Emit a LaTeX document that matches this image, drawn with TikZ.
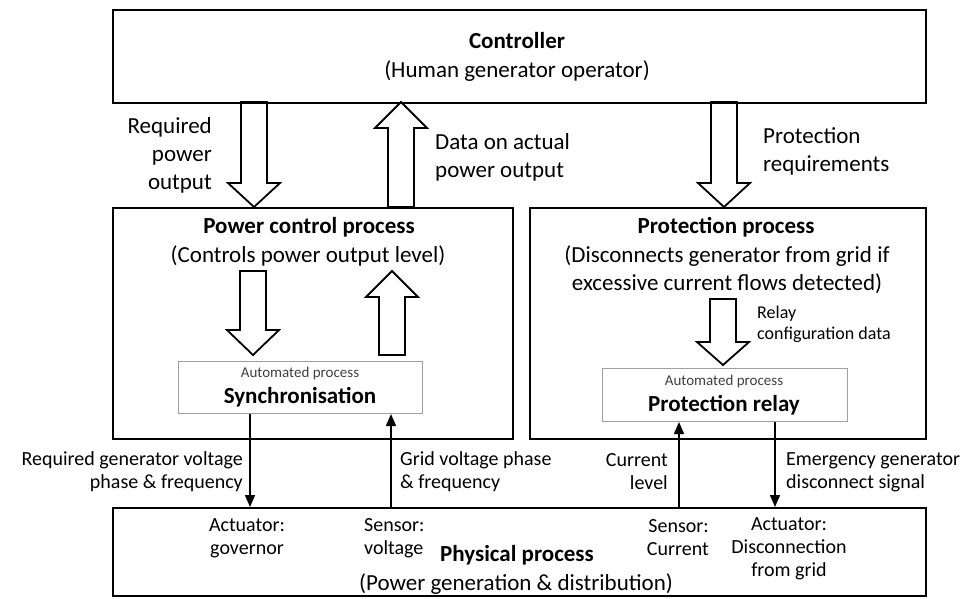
\documentclass[tikz,border=0pt]{standalone}
\usepackage{fontspec}
\setmainfont{Carlito}
\usetikzlibrary{arrows.meta,calc}
\newcommand\blkdown[4]{\draw[blk] (#1-13,#2) -- (#1-13,#3) -- (#1-26,#3) -- (#1,#4) -- (#1+26,#3) -- (#1+13,#3) -- (#1+13,#2) -- cycle;}
\newcommand\blkup[4]{\draw[blk] (#1-13,#2) -- (#1-13,#3) -- (#1-26,#3) -- (#1,#4) -- (#1+26,#3) -- (#1+13,#3) -- (#1+13,#2) -- cycle;}
\begin{document}
\begin{tikzpicture}[x=1pt,y=-1pt,
  box/.style={draw, line width=2.4pt, inner sep=0pt, anchor=north west},
  ibox/.style={draw=gray!75, line width=1pt, inner sep=0pt, anchor=north west},
  blk/.style={draw, line width=1.8pt, fill=white, line join=miter},
  sig/.style={line width=1.6pt, -{Triangle[length=12pt,width=10pt]}},
  big/.style={font=\fontsize{23}{28}\selectfont, inner sep=0pt},
  bigb/.style={font=\fontsize{23}{28}\selectfont\bfseries, inner sep=0pt},
  mid/.style={font=\fontsize{20}{23}\selectfont, inner sep=0pt},
  sml/.style={font=\fontsize{18}{21}\selectfont, inner sep=0pt},
  tiny/.style={font=\fontsize{15}{18}\selectfont, text=black!75, inner sep=0pt}]
\useasboundingbox (0,0) rectangle (974,598);

% block arrows
\blkdown{254}{102}{183}{207}
\blkup{401}{207}{128}{102}
\blkdown{724}{102}{183}{207}
\blkdown{253}{271}{330}{355}
\blkup{392}{355}{297}{271}
\blkdown{723}{299}{342}{365}

% boxes
\node[box, minimum width=813pt, minimum height=93pt] (ctrl) at (112,9) {};
\node[box, minimum width=400pt, minimum height=231pt] (pcp) at (112,207) {};
\node[box, minimum width=396pt, minimum height=231pt] (pp) at (529,207) {};
\node[box, minimum width=813pt, minimum height=88pt] (phys) at (112,507) {};
\node[ibox, minimum width=244pt, minimum height=52pt] (sync) at (178,361) {};
\node[ibox, minimum width=245pt, minimum height=53pt] (relay) at (602,368) {};

% signal arrows
\coordinate (c1) at (250,0);
\coordinate (c2) at (391,0);
\coordinate (c3) at (679,0);
\coordinate (c4) at (775,0);
\draw[sig] (c1 |- sync.south) -- (c1 |- phys.north);
\draw[sig] (c2 |- phys.north) -- (c2 |- sync.south);
\draw[sig] (c3 |- phys.north) -- (c3 |- relay.south);
\draw[sig] (c4 |- relay.south) -- (c4 |- phys.north);

% texts
\node[bigb] (t1) at (517,41) {Controller};
\node[big] (t2) at (517,71) {(Human generator operator)};
\node[big, align=right, anchor=east] (t3) at (212,155) {Required\\power\\output};
\node[big, align=left, anchor=west] (t4) at (435,157) {Data on actual\\power output};
\node[big, align=left, anchor=west] (t5) at (763,151) {Protection\\requirements};
\node[bigb] (t6) at (309,227) {Power control process};
\node[big] (t7) at (308,256) {(Controls power output level)};
\node[bigb] (t8) at (726,227) {Protection process};
\node[big, align=center] (t9) at (727,270) {(Disconnects generator from grid if\\excessive current flows detected)};
\node[sml, align=left, anchor=west] (t10) at (757,324) {Relay\\configuration data};
\node[tiny] (t11) at (300,373) {Automated process};
\node[bigb] (t12) at (300,397) {Synchronisation};
\node[tiny] (t13) at (724,381) {Automated process};
\node[bigb] (t14) at (724,405) {Protection relay};
\node[mid, align=right, anchor=east] (t15) at (243,472) {Required generator voltage\\phase \& frequency};
\node[mid, align=left, anchor=west] (t16) at (400,472) {Grid voltage phase\\\& frequency};
\node[mid, align=right, anchor=east] (t17) at (668,472) {Current\\level};
\node[mid, align=left, anchor=west] (t18) at (786,472) {Emergency generator\\disconnect signal};
\node[mid, align=center] (t19) at (247,538) {Actuator:\\governor};
\node[mid, align=left, anchor=west] (t20) at (364,538) {Sensor:\\voltage};
\node[bigb] (t21) at (517,555) {Physical process};
\node[big] (t22) at (516,584) {(Power generation \& distribution)};
\node[mid, align=right, anchor=east] (t23) at (709,538) {Sensor:\\Current};
\node[mid, align=center] (t24) at (789,549) {Actuator:\\Disconnection\\from grid};
\end{tikzpicture}
\end{document}
